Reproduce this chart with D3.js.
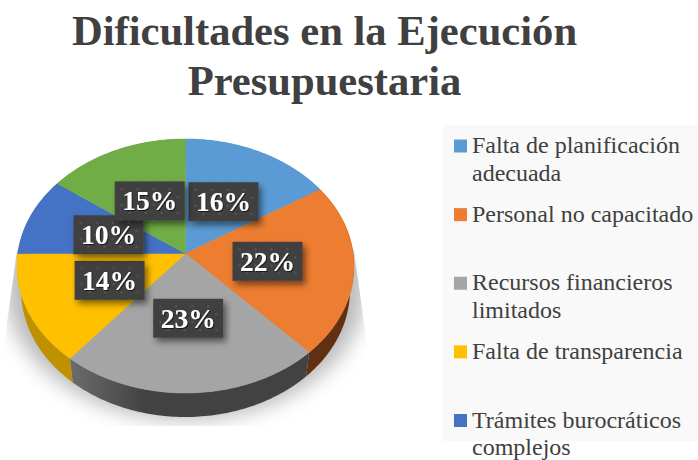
<!DOCTYPE html>
<html><head><meta charset="utf-8">
<script src="https://cdn.jsdelivr.net/npm/d3@7"></script>
<style>html,body{margin:0;padding:0;background:#fff;overflow:hidden}svg{display:block}
text{font-family:"Liberation Serif",serif}</style></head>
<body><svg id="c" width="698" height="460"></svg>
<script>
// Clockwise from 12 o'clock. The sixth (green) slice has no visible legend entry in the reference.
const titleLines = ["Dificultades en la Ejecución", "Presupuestaria"];
const legendLabels = [
  ["Falta de planificación", "adecuada"],
  ["Personal no capacitado"],
  ["Recursos financieros", "limitados"],
  ["Falta de transparencia"],
  ["Trámites burocráticos", "complejos"]
];
const values = [16, 22, 23, 14, 10, 15];
const faceColors = ["#5B9BD5", "#ED7D31", "#A5A5A5", "#FFC000", "#4472C4", "#70AD47"];
const wallColors = ["#3A6A96", "#5F3012", "url(#wallGray)", "#BF9000", "#2F4F8A", "#4E7A31"];

const svg = d3.select("#c");
const defs = svg.append("defs");

// Perspective model of the disc
const K = -0.098, DEPTH = 24, STEP = Math.PI / 180;
const sx = d3.scaleLinear().domain([-1, 1]).range([17, 354]);
const sy = d3.scaleLinear().domain([-1, 1]).range([139, 393]);
const sxB = d3.scaleLinear().domain([-1, 1]).range([21, 350]);
const syB = d3.scaleLinear().domain([-1, 1]).range([139 + DEPTH, 393 + DEPTH]);
function proj(a, r) {
  const u = r * Math.sin(a), v = -r * Math.cos(a), w = 1 + K * v;
  return [u * Math.sqrt(1 - K * K) / w, (v + K) / w];
}
const rim = (a, r = 1) => { const p = proj(a, r); return [sx(p[0]), sy(p[1])]; };
const bot = a => { const p = proj(a, 1); return [sxB(p[0]), syB(p[1])]; };
const arcs = d3.pie().sort(null).value(d => d)(values);
const angles = d => d3.range(d.startAngle, d.endAngle, STEP).concat([d.endAngle]);
const line = d3.line();

// Filters, gradient, pattern
const blur = defs.append("filter").attr("id", "blur").attr("x", "-20%").attr("y", "-20%").attr("width", "140%").attr("height", "140%");
blur.append("feGaussianBlur").attr("stdDeviation", 10);
const boxSh = defs.append("filter").attr("id", "boxSh").attr("x", "-20%").attr("y", "-30%").attr("width", "150%").attr("height", "170%");
boxSh.append("feDropShadow").attr("dx", 3).attr("dy", 4).attr("stdDeviation", 3).attr("flood-color", "#000").attr("flood-opacity", 0.5);
const txtSh = defs.append("filter").attr("id", "txtSh");
txtSh.append("feDropShadow").attr("dx", 1).attr("dy", 1).attr("stdDeviation", 0.7).attr("flood-color", "#000").attr("flood-opacity", 0.6);
const grad = defs.append("linearGradient").attr("id", "wallGray").attr("gradientUnits", "userSpaceOnUse")
  .attr("x1", 70).attr("x2", 145).attr("y1", 0).attr("y2", 0);
grad.append("stop").attr("offset", 0).attr("stop-color", "#6C6C6C");
grad.append("stop").attr("offset", 1).attr("stop-color", "#424242");
const pat = defs.append("pattern").attr("id", "dots").attr("width", 16).attr("height", 16).attr("patternUnits", "userSpaceOnUse");
pat.append("rect").attr("width", 16).attr("height", 16).attr("fill", "#404040");
pat.selectAll("rect.dot").data([[4, 4], [12, 12]]).join("rect").attr("class", "dot")
  .attr("x", d => d[0] - 1).attr("y", d => d[1] - 1).attr("width", 2).attr("height", 2).attr("fill", "#585858");
defs.append("clipPath").attr("id", "shClip").append("path")
  .attr("d", "M17,250L354,250L367,345L367,426L4,426L4,345Z");

// Ground shadow
svg.append("g").attr("clip-path", "url(#shClip)").append("ellipse")
  .attr("cx", sx(0)).attr("cy", 287).attr("rx", 180).attr("ry", 133)
  .attr("fill", "#000").attr("fill-opacity", 0.27).attr("filter", "url(#blur)");

// Legend panel
const panel = { x: 442, y: 125, w: 256, h: 316 };
svg.append("rect").attr("x", panel.x).attr("y", panel.y).attr("width", panel.w).attr("height", panel.h).attr("fill", "#F9F9F9");

// Walls
svg.append("g").selectAll("path").data(arcs).join("path")
  .attr("d", d => { const as = angles(d); return line(as.map(a => rim(a)).concat(as.slice().reverse().map(bot))) + "Z"; })
  .attr("fill", (d, i) => wallColors[i]);

// Faces
svg.append("g").selectAll("path").data(arcs).join("path")
  .attr("d", d => line([rim(0, 0)].concat(angles(d).map(a => rim(a)))) + "Z")
  .attr("fill", (d, i) => faceColors[i])
  .attr("stroke", (d, i) => faceColors[i]).attr("stroke-width", 0.5);

// Data labels
const BW = 70, BH = 39;
const lab = svg.append("g").selectAll("g").data(arcs).join("g")
  .attr("transform", d => {
    const c = rim((d.startAngle + d.endAngle) / 2, 0.49);
    return `translate(${c[0]},${c[1]})`;
  });
lab.append("rect").attr("x", -BW / 2).attr("y", -BH / 2).attr("width", BW).attr("height", BH)
  .attr("fill", "url(#dots)").attr("filter", "url(#boxSh)");
lab.append("text").attr("text-anchor", "middle").attr("y", 9.5)
  .attr("font-size", 27.5).attr("font-weight", 700).attr("fill", "#fff").attr("filter", "url(#txtSh)")
  .text(d => d.data + "%");

// Title
svg.append("g").selectAll("text").data(titleLines).join("text")
  .attr("x", 324.5).attr("y", (d, i) => 45 + i * 50)
  .attr("text-anchor", "middle").attr("font-size", 42.6).attr("font-weight", 700).attr("fill", "#404040")
  .text(d => d);

// Legend
const rowY = d3.scaleLinear().domain([0, 4]).range([146, 420.5]);
const leg = svg.append("g").selectAll("g").data(legendLabels).join("g")
  .attr("transform", (d, i) => `translate(454,${rowY(i)})`);
leg.append("rect").attr("y", -6.5).attr("width", 13).attr("height", 13).attr("fill", (d, i) => faceColors[i]);
leg.selectAll("text").data(d => d).join("text")
  .attr("x", 18).attr("y", (d, i) => 7 + i * 27.5)
  .attr("font-size", 24).attr("fill", "#404040").text(d => d);
</script></body></html>
